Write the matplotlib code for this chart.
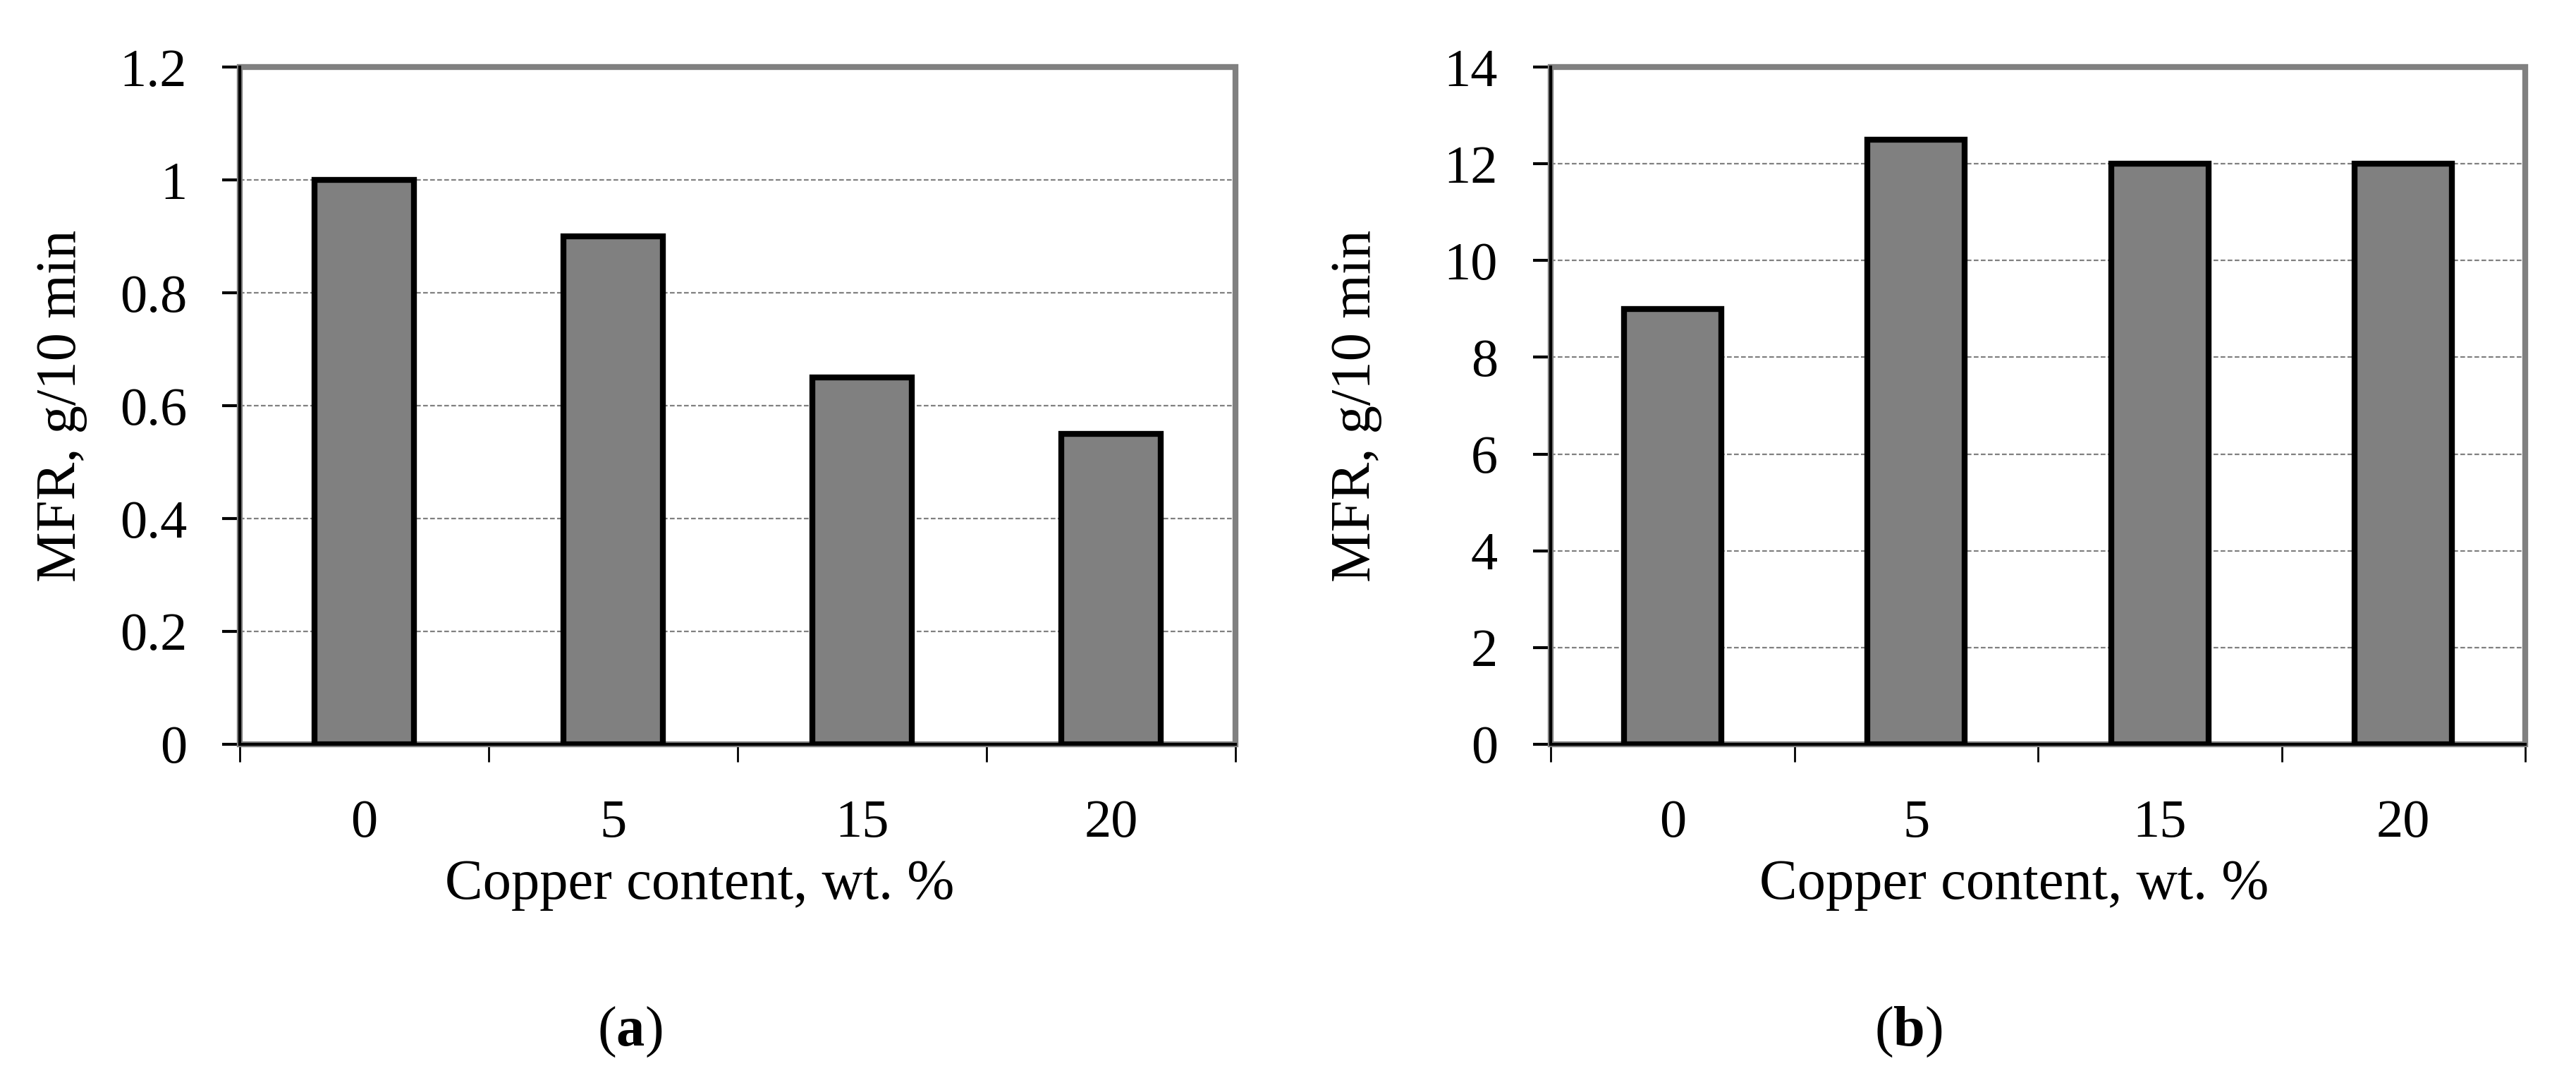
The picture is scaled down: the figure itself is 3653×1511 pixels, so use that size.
import matplotlib
matplotlib.use("Agg")
import matplotlib.pyplot as plt
from matplotlib.patches import Rectangle

# MFR data
categories = ["0", "5", "15", "20"]
mfr_a = [1.0, 0.9, 0.65, 0.55]
mfr_b = [9.0, 12.5, 12.0, 12.0]
yticks_a = [0, 0.2, 0.4, 0.6, 0.8, 1.0, 1.2]
ytick_labels_a = ["0", "0.2", "0.4", "0.6", "0.8", "1", "1.2"]
yticks_b = [0, 2, 4, 6, 8, 10, 12, 14]
ytick_labels_b = [str(v) for v in yticks_b]

plt.rcParams['font.family'] = ['Liberation Serif', 'DejaVu Serif']
plt.rcParams['mathtext.fontset'] = 'custom'
plt.rcParams['mathtext.bf'] = 'Liberation Serif:bold'
plt.rcParams['mathtext.rm'] = 'Liberation Serif'

FS_TICK = 55
FS_LAB = 58
GRAY = "#808080"

fig = plt.figure(figsize=(36.53, 15.11), dpi=100)


def panel(rect, vals, yticks, ylabels, ylab_x, xlab_x, tag, tag_x):
    ax = fig.add_axes(rect)
    x = list(range(len(vals)))
    ax.bar(x, vals, width=0.4, color=GRAY, edgecolor="black", linewidth=6, zorder=3)
    ax.set_xlim(-0.5, len(vals) - 0.5)
    ax.set_ylim(yticks[0], yticks[-1])

    # dashed gridlines
    for yv in yticks[1:-1]:
        ax.axhline(yv, color=GRAY, lw=1.6, ls=(0, (3, 1.5)), zorder=1)

    # plot area border in gray
    ax.add_patch(Rectangle((0, 0), 1, 1, transform=ax.transAxes, fill=False,
                           edgecolor=GRAY, lw=6, zorder=2, clip_on=False))
    for s in ["top", "right"]:
        ax.spines[s].set_visible(False)
    for s in ["left", "bottom"]:
        ax.spines[s].set_color("black")
        ax.spines[s].set_linewidth(3)
        ax.spines[s].set_zorder(4)

    ax.set_yticks(yticks)
    ax.set_yticklabels(ylabels, fontsize=FS_TICK)
    ax.tick_params(axis="y", direction="out", length=18, width=3, pad=36)

    ax.set_xticks(x)
    ax.set_xticklabels(categories, fontsize=FS_TICK)
    ax.set_xticks([i - 0.5 for i in range(len(vals) + 1)], minor=True)
    ax.tick_params(axis="x", which="major", length=0, pad=56)
    ax.tick_params(axis="x", which="minor", direction="out", length=18, width=2)

    ax.set_xlabel("Copper content, wt. %", fontsize=FS_LAB)
    ax.xaxis.set_label_coords(xlab_x, -0.170)
    ax.set_ylabel("MFR, g/10 min", fontsize=FS_LAB)
    ax.yaxis.set_label_coords(ylab_x, 0.5)

    fig.text(tag_x, 0.032, "(" + r"$\mathbf{" + tag + "}$" + ")", fontsize=FS_LAB,
             ha="center", va="center")
    return ax


panel([0.0931, 0.3018, 0.3865, 0.6353], mfr_a, yticks_a, ytick_labels_a,
      -0.153, 0.462, "a", 0.2445)
panel([0.6020, 0.3018, 0.3783, 0.6353], mfr_b, yticks_b, ytick_labels_b,
      -0.173, 0.4755, "b", 0.741)

fig.savefig("out.png", dpi=100, facecolor="white")
